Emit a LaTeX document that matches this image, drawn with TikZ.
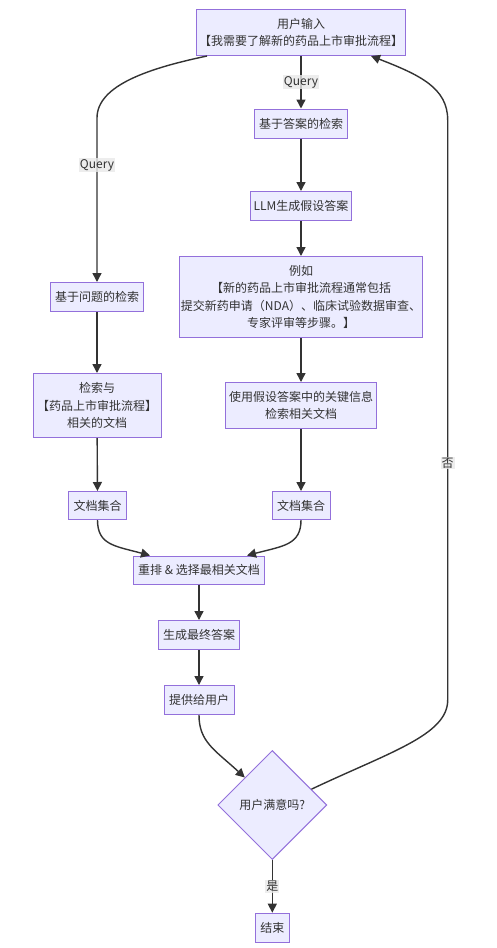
\documentclass[tikz,border=0pt]{standalone}
\usepackage{fontspec}
\setmainfont{Noto Sans CJK SC}
\usetikzlibrary{arrows.meta,shapes.geometric}
\definecolor{nodefill}{HTML}{ECECFF}
\definecolor{nodeline}{HTML}{9370DB}
\definecolor{edgecol}{HTML}{333333}
\definecolor{lblbg}{HTML}{E8E8E8}
\begin{document}
\begin{tikzpicture}[x=1pt,y=-1pt,
 box/.style={draw=nodeline, fill=nodefill, line width=1pt, text=edgecol, align=center, inner sep=0pt, font=\fontsize{12}{17.5}\selectfont},
 decision/.style={box, diamond, aspect=1, minimum width=109pt, minimum height=109pt},
 edge/.style={draw=edgecol, line width=1.4pt, -{Triangle[length=9pt,width=9pt]}},
 lbl/.style={fill=lblbg, fill opacity=0.8, text opacity=1, text=edgecol, inner sep=1pt, font=\fontsize{12}{14}\selectfont}]
\useasboundingbox (0,0) rectangle (497,948);

\node[box, minimum width=209pt, minimum height=46pt] (in) at (301,32.5) {用户输入\\【我需要了解新的药品上市审批流程】};
\node[box, minimum width=93pt, minimum height=29pt] (ans) at (301,123.5) {基于答案的检索};
\node[box, minimum width=101pt, minimum height=29pt] (llm) at (301,206) {LLM生成假设答案};
\node[box, minimum width=243pt, minimum height=81pt] (ex) at (301,297) {例如\\【新的药品上市审批流程通常包括\\提交新药申请（NDA）、临床试验数据审查、\\专家评审等步骤。】};
\node[box, minimum width=151pt, minimum height=46pt] (use) at (301,405.5) {使用假设答案中的关键信息\\检索相关文档};
\node[box, minimum width=58pt, minimum height=28pt] (docr) at (301,505.5) {文档集合};

\node[box, minimum width=93pt, minimum height=29pt] (q) at (97,297) {基于问题的检索};
\node[box, minimum width=128pt, minimum height=64pt] (ret) at (97,405.5) {检索与\\【药品上市审批流程】\\相关的文档};
\node[box, minimum width=58pt, minimum height=28pt] (docl) at (97.5,505.5) {文档集合};

\node[box, minimum width=131pt, minimum height=28pt] (rr) at (199,570) {重排 \& 选择最相关文档};
\node[box, minimum width=81pt, minimum height=29pt] (gen) at (199,635) {生成最终答案};
\node[box, minimum width=70pt, minimum height=29pt] (give) at (199,700) {提供给用户};
\node[decision] (dec) at (272.3,805) {用户满意吗?};
\node[box, minimum width=34pt, minimum height=29pt] (end) at (272.3,927.7) {结束};

% edges
\draw[edge] (in) -- node[lbl] (lq1) {Query} (ans);
\draw[edge] ([xshift=11pt]in.south west) .. controls (150,68) and (97,85) .. (97,118) -- (q.north);
\node[lbl] (lq2) at (97,165) {Query};
\draw[edge] (ans) -- (llm);
\draw[edge] (llm) -- (ex);
\draw[edge] (ex) -- (use);
\draw[edge] (use) -- (docr);
\draw[edge] (q) -- (ret);
\draw[edge] (ret) -- (docl);
\draw[edge] (docl.south) .. controls (97.5,545) and (115,546) .. ([xshift=17pt]rr.north west);
\draw[edge] (docr.south) .. controls (301,545) and (283,546) .. ([xshift=-18pt]rr.north east);
\draw[edge] (rr) -- (gen);
\draw[edge] (gen) -- (give);
\draw[edge] (give.south) .. controls (199,742) and (215,750) .. (dec.north west);
\draw[edge] (dec) -- node[lbl] (lyes) {是} (end);
\draw[edge] (dec.22) .. controls (390,752) and (447.7,735) .. (447.7,700) -- (447.7,120) .. controls (447.7,88) and (420,75) .. ([xshift=-35pt]in.south east);
\node[lbl] (lno) at (447.7,463.3) {否};
\end{tikzpicture}
\end{document}
